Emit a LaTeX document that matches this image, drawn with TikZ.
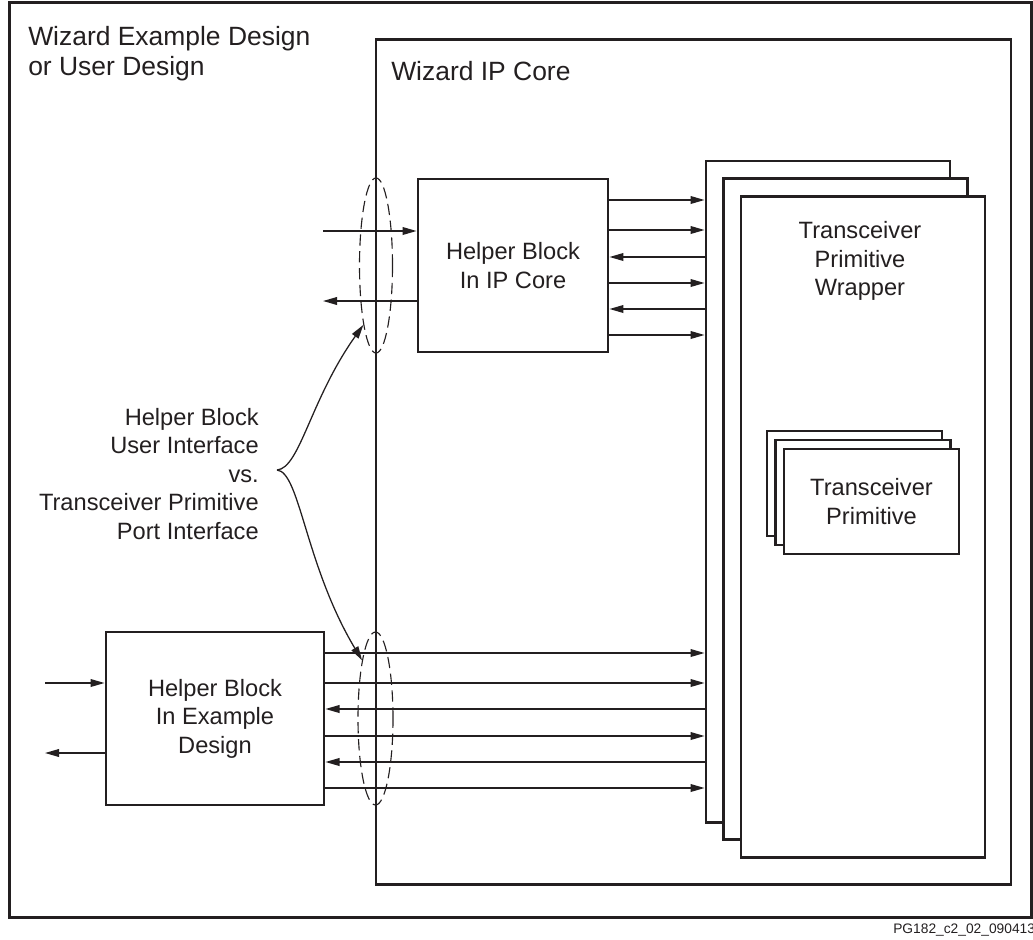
\documentclass[tikz,border=0pt]{standalone}
\usepackage{fontspec}
\setmainfont{Liberation Sans}
\usetikzlibrary{shapes.geometric, arrows.meta, positioning}
\definecolor{inkblk}{RGB}{35, 31, 32}

\begin{document}
\begin{tikzpicture}[x=0.025cm, y=-0.025cm,
  >={Triangle[length=10pt,width=5.5pt]},
  txt/.style={font=\fontsize{16.8}{20.3}\selectfont, text=inkblk, inner sep=0pt, align=center},
  ttl/.style={font=\fontsize{18.8}{21.3}\selectfont, text=inkblk, inner sep=0pt, align=left},
  blk/.style={draw=inkblk, line width=2pt, fill=white, txt},
  sig/.style={draw=inkblk, line width=1pt},
  grp/.style={draw=inkblk, ellipse, dash pattern=on 8pt off 4pt, line width=0.8pt, inner sep=0pt},
]
\useasboundingbox (0,0) rectangle (1033,940);

% Outer design and IP core
\node[blk, fill=none, minimum width=25.525cm, minimum height=22.85cm] (dsgn) at (520.5,460) {};
\node[ttl, anchor=north west] (dsgnlbl) at (28,26) {Wizard Example Design\\or User Design};
\node[blk, fill=none, minimum width=15.875cm, minimum height=21.1cm] (core) at (693.5,462) {};
\node[ttl, anchor=north west] (corelbl) at (391,61) {Wizard IP Core};

% Wrapper stack
\foreach \i/\n in {0/wrA,1/wrB,2/wrC}
  \node[blk, minimum width=6.1cm, minimum height=16.525cm] (\n) at (828+17.5*\i, 491.5+17.75*\i) {};
\node[txt] (wrlbl) at (860,261) {Transceiver\\Primitive\\Wrapper};

% Primitive stack
\foreach \i/\n in {0/prA,1/prB,2/prC}
  \node[blk, minimum width=4.375cm, minimum height=2.625cm] (\n) at (854.5+8.5*\i, 483.5+9*\i) {};
\node[txt] (prlbl) at (prC.center) {Transceiver\\Primitive};

% Helper blocks
\node[blk, minimum width=4.75cm, minimum height=4.325cm] (hip) at (513,265.5) {Helper Block\\In IP Core};
\node[blk, minimum width=5.45cm, minimum height=4.325cm] (hex) at (215,718.5) {Helper Block\\In Example\\Design};

% Port signals
\foreach \y/\d in {200/->,230/->,257/<-,283/->,309/<-,335/->}
  \draw[sig,\d] (hip.east |- 0,\y) -- (wrA.west |- 0,\y);
\foreach \y/\d in {653/->,683/->,709/<-,736/->,762/<-,788/->}
  \draw[sig,\d] (hex.east |- 0,\y) -- (wrA.west |- 0,\y);

% User side signals
\coordinate (inA) at (323,231);
\coordinate (outA) at (323,301);
\draw[sig,->] (inA) -- (hip.west |- inA);
\draw[sig,->] (hip.west |- outA) -- (outA);
\coordinate (inB) at (45,683);
\coordinate (outB) at (45,753);
\draw[sig,->] (inB) -- (hex.west |- inB);
\draw[sig,->] (hex.west |- outB) -- (outB);

% Interface groups
\node[grp, minimum width=0.825cm, minimum height=4.375cm] (ellA) at (376,265.5) {};
\node[grp, minimum width=0.875cm, minimum height=4.325cm] (ellB) at (375.5,718.5) {};

% Comparison label
\node[txt, align=right, anchor=east] (cmp) at (259,474) {Helper Block\\User Interface\\vs.\\Transceiver Primitive\\Port Interface};
\coordinate (brc) at (277,470);
\draw[sig, line width=0.9pt, ->] (brc) .. controls (300,468) and (310,400) .. (ellA.258);
\draw[sig, line width=0.9pt, ->] (brc) .. controls (300,472) and (305,565) .. (ellB.103);

\node[font=\fontsize{9.8}{11}\selectfont, text=inkblk, anchor=base west, inner sep=0pt] (figid) at (893,933) {PG182\_c2\_02\_090413};
\end{tikzpicture}
\end{document}
